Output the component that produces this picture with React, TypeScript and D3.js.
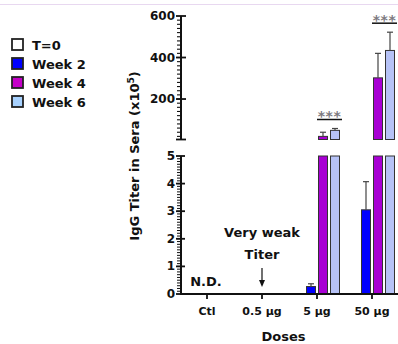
import { useEffect, useRef } from 'react';
import * as d3 from 'd3';

// values are IgG titer x10^5
const doses = ['Ctl', '0.5 µg', '5 µg', '50 µg'];
const timepoints = ['T=0', 'Week 2', 'Week 4', 'Week 6'];
const t0Values = [0, 0, 0, 0];
const week2Values = [0, 0, 0.27, 3.05];
const week4Values = [0, 0, 20, 302];
const week6Values = [0, 0, 49, 434];
const week2Err = [0, 0, 0.1, 1.02];
const week4Err = [0, 0, 20, 118];
const week6Err = [0, 0, 9, 88];
const topTicks = [200, 400, 600];
const bottomTicks = [0, 1, 2, 3, 4, 5];
const sigDoses = ['5 µg', '50 µg'];

const colors = ['#ffffff', '#0000ff', '#a800d4', '#b6c2f6'];
const legendColors = ['#ffffff', '#0000ff', '#c400c8', '#a8d2ff'];
const FONT = 'DejaVu Sans, sans-serif';

export default function App() {
  const svgRef = useRef<SVGSVGElement>(null);
  const width = 398;
  const height = 344;

  useEffect(() => {
    if (!svgRef.current) return;
    const svg = d3.select(svgRef.current);
    svg.selectAll('*').remove();

    const axisX = 181;
    const values = [t0Values, week2Values, week4Values, week6Values];
    const errs = [t0Values, week2Err, week4Err, week6Err];

    const x = d3.scaleBand().domain(doses).range([179.5, 399.5]);
    const xs = d3.scaleBand().domain(timepoints).range([-22.5, 22.5]).paddingInner(0.25);
    const yTop = d3.scaleLinear().domain([5, 600]).range([139.5, 16]);
    const yBot = d3.scaleLinear().domain([0, 5]).range([294, 156]);

    // faint page border at the top
    svg.append('line')
      .attr('x1', 0).attr('x2', width).attr('y1', 4.5).attr('y2', 4.5)
      .attr('stroke', '#e8d8f0').attr('stroke-width', 1);

    const bars = timepoints.flatMap((t, si) =>
      doses.map((d, di) => ({ t, si, d, v: values[si][di], e: errs[si][di] })));

    const bx = (b: any) => (x(b.d) || 0) + x.bandwidth() / 2 + (xs(b.t) || 0);

    // bottom panel bars (clipped at 5)
    svg.append('g').selectAll('rect')
      .data(bars.filter(b => b.v > 0))
      .enter().append('rect')
      .attr('x', bx)
      .attr('y', b => yBot(Math.min(b.v, 5)))
      .attr('width', xs.bandwidth())
      .attr('height', b => yBot(0) - yBot(Math.min(b.v, 5)))
      .attr('fill', b => colors[b.si])
      .attr('stroke', '#333').attr('stroke-width', 1);

    // top panel bars
    svg.append('g').selectAll('rect')
      .data(bars.filter(b => b.v > 5))
      .enter().append('rect')
      .attr('x', bx)
      .attr('y', b => yTop(b.v))
      .attr('width', xs.bandwidth())
      .attr('height', b => yTop(5) - yTop(b.v))
      .attr('fill', b => colors[b.si])
      .attr('stroke', '#333').attr('stroke-width', 1);

    // error bars (upward only)
    const errG = svg.append('g').attr('stroke', '#444').attr('stroke-width', 1.2);
    bars.filter(b => b.e > 0).forEach(b => {
      const cx = bx(b) + xs.bandwidth() / 2;
      const y = b.v > 5 ? yTop : yBot;
      if (b.v <= 5 && b.v + b.e > 5) return;
      errG.append('line').attr('x1', cx).attr('x2', cx)
        .attr('y1', y(b.v)).attr('y2', y(b.v + b.e));
      errG.append('line').attr('x1', cx - 3).attr('x2', cx + 3)
        .attr('y1', y(b.v + b.e)).attr('y2', y(b.v + b.e));
    });

    // top y axis
    const ax = svg.append('g').attr('stroke', '#111');
    ax.append('line').attr('x1', axisX).attr('x2', axisX)
      .attr('y1', yTop(600)).attr('y2', yTop(5)).attr('stroke-width', 2);
    ax.selectAll('.minorTop')
      .data(d3.range(20, 600, 20))
      .enter().append('line')
      .attr('x1', axisX - 4).attr('x2', axisX)
      .attr('y1', d => yTop(d)).attr('y2', d => yTop(d))
      .attr('stroke-width', 1.1);
    ax.selectAll('.majorTop')
      .data([5, ...topTicks])
      .enter().append('line')
      .attr('x1', axisX - 5).attr('x2', axisX + 5)
      .attr('y1', d => yTop(d)).attr('y2', d => yTop(d))
      .attr('stroke-width', 1.8);

    // bottom y axis
    ax.append('line').attr('x1', axisX).attr('x2', axisX)
      .attr('y1', yBot(5)).attr('y2', yBot(0)).attr('stroke-width', 2);
    ax.selectAll('.minorBot')
      .data(d3.range(0.1, 5, 0.1))
      .enter().append('line')
      .attr('x1', axisX - 4).attr('x2', axisX)
      .attr('y1', d => yBot(d)).attr('y2', d => yBot(d))
      .attr('stroke-width', 1);
    ax.selectAll('.majorBot')
      .data(bottomTicks)
      .enter().append('line')
      .attr('x1', axisX - 5).attr('x2', axisX + 4)
      .attr('y1', d => yBot(d)).attr('y2', d => yBot(d))
      .attr('stroke-width', 1.8);

    const labelStyle = (sel: any, size: number) => sel
      .style('font-family', FONT).style('font-weight', 'bold')
      .style('font-size', `${size}px`).style('fill', '#111');

    labelStyle(svg.append('g').selectAll('text')
      .data(topTicks).enter().append('text')
      .attr('x', axisX - 6).attr('y', d => yTop(d) + 4)
      .attr('text-anchor', 'end').text(d => d), 12);

    labelStyle(svg.append('g').selectAll('text')
      .data(bottomTicks).enter().append('text')
      .attr('x', axisX - 6).attr('y', d => yBot(d) + 4)
      .attr('text-anchor', 'end').text(d => d), 12);

    // x axis
    ax.append('line').attr('x1', axisX - 1).attr('x2', width)
      .attr('y1', yBot(0)).attr('y2', yBot(0)).attr('stroke-width', 2);
    ax.selectAll('.xtick')
      .data(doses).enter().append('line')
      .attr('x1', d => (x(d) || 0) + x.bandwidth() / 2)
      .attr('x2', d => (x(d) || 0) + x.bandwidth() / 2)
      .attr('y1', yBot(0)).attr('y2', yBot(0) + 5)
      .attr('stroke-width', 1.8);
    labelStyle(svg.append('g').selectAll('text')
      .data(doses).enter().append('text')
      .attr('x', d => (x(d) || 0) + x.bandwidth() / 2)
      .attr('y', yBot(0) + 21)
      .attr('text-anchor', 'middle').text(d => d), 11);

    labelStyle(svg.append('text')
      .attr('x', (x('5 µg') || 0) - 6).attr('y', 341)
      .attr('text-anchor', 'middle').text('Doses'), 13);

    const title = labelStyle(svg.append('text')
      .attr('transform', `translate(139,156) rotate(-90)`)
      .attr('text-anchor', 'middle'), 13);
    title.append('tspan').text('IgG Titer in Sera (x10');
    title.append('tspan').attr('dy', -5).style('font-size', '9px').text('5');
    title.append('tspan').attr('dy', 5).text(')');

    // annotations
    const ctlX = (x('Ctl') || 0) + x.bandwidth() / 2;
    const weakX = (x('0.5 µg') || 0) + x.bandwidth() / 2;
    labelStyle(svg.append('text').attr('x', ctlX - 1).attr('y', 286)
      .attr('text-anchor', 'middle').text('N.D.'), 13);
    labelStyle(svg.append('text').attr('x', weakX).attr('y', 237)
      .attr('text-anchor', 'middle').text('Very weak'), 13);
    labelStyle(svg.append('text').attr('x', weakX).attr('y', 259)
      .attr('text-anchor', 'middle').text('Titer'), 13);
    svg.append('line').attr('x1', weakX).attr('x2', weakX)
      .attr('y1', 268).attr('y2', 284).attr('stroke', '#111').attr('stroke-width', 1.2);
    svg.append('path')
      .attr('d', `M${weakX - 3},${280} L${weakX},${287} L${weakX + 3},${280} Z`)
      .attr('fill', '#111');

    // significance
    sigDoses.forEach(d => {
      const di = doses.indexOf(d);
      const top = Math.max(week4Values[di] + week4Err[di], week6Values[di] + week6Err[di]);
      const yl = yTop(top) - 9;
      const x1 = (x(d) || 0) + x.bandwidth() / 2;
      const x2 = x1 + 25;
      svg.append('line').attr('x1', x1).attr('x2', x2).attr('y1', yl).attr('y2', yl)
        .attr('stroke', '#111').attr('stroke-width', 1.5);
      svg.append('text').attr('x', (x1 + x2) / 2).attr('y', yl + 2)
        .attr('text-anchor', 'middle')
        .style('font-family', FONT).style('font-weight', 'bold')
        .style('font-size', '14px').style('fill', '#7d7a80')
        .style('letter-spacing', '0.5px')
        .text('***');
    });

    // legend
    const lg = svg.append('g').attr('transform', 'translate(12,39)');
    timepoints.forEach((t, i) => {
      const row = lg.append('g').attr('transform', `translate(0,${i * 19})`);
      row.append('rect').attr('x', 0).attr('y', 0).attr('width', 11).attr('height', 11)
        .attr('fill', legendColors[i]).attr('stroke', '#222').attr('stroke-width', 1.8);
      labelStyle(row.append('text').attr('x', 20).attr('y', 11).text(t), 13);
    });
  }, []);

  return (
    <svg
      ref={svgRef}
      width={width}
      height={height}
      style={{ position: 'absolute', left: 0, top: 0, background: '#fff' }}
    />
  );
}
